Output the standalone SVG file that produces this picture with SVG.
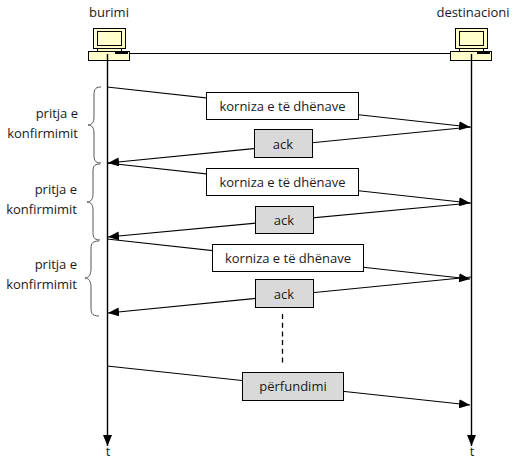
<svg xmlns="http://www.w3.org/2000/svg" width="516" height="466" viewBox="0 0 516 466">
<style>
text{font-family:"Open Sans","Noto Sans","Liberation Sans",sans-serif;font-size:13px;fill:#1a1a1a}
.m{text-anchor:middle}.e{text-anchor:end}
.c{fill:#ffffcc;stroke:#000;stroke-width:1}
.w{fill:#fff;stroke:#000;stroke-width:1}
.g{fill:#d9d9d9;stroke:#000;stroke-width:1}
.l{fill:none;stroke:#000;stroke-width:1.1}
.v{fill:none;stroke:#000;stroke-width:1.4}
.b{fill:none;stroke:#555;stroke-width:1}
.d{fill:none;stroke:#000;stroke-width:1.3;stroke-dasharray:5 3.7}
</style>
<defs>
<marker id="a" markerUnits="userSpaceOnUse" markerWidth="11" markerHeight="9" refX="11" refY="4.5" orient="auto"><path d="M0 0L11 4.5L0 9Z" fill="#000"/></marker>
<symbol id="pc" overflow="visible">
<rect class="c" x="5.5" y="0.5" width="32" height="20"/>
<rect class="c" x="9.5" y="3.5" width="24" height="14"/>
<rect class="c" x="9.5" y="20.5" width="24" height="3"/>
<rect class="c" x="0.5" y="23.5" width="41" height="9"/>
<rect x="27" y="24" width="13" height="2" fill="#000"/>
</symbol>
</defs>
<g id="source"><use href="#pc" x="88" y="28"/><text class="m" x="109" y="17">burimi</text></g>
<g id="destination"><use href="#pc" x="450" y="28"/><text class="m" x="473" y="17">destinacioni</text></g>
<g id="connectors">
<path class="l" d="M129 53.5H450"/>
<path class="v" d="M107.5 54V446" marker-end="url(#a)"/>
<path class="v" d="M471.5 54V446" marker-end="url(#a)"/>
<path class="l" d="M107 87L470 127" marker-end="url(#a)"/>
<path class="l" d="M471 127L108 163" marker-end="url(#a)"/>
<path class="l" d="M107 163L470 203" marker-end="url(#a)"/>
<path class="l" d="M471 203L108 237" marker-end="url(#a)"/>
<path class="l" d="M107 239L470 279" marker-end="url(#a)"/>
<path class="l" d="M471 277L108 313" marker-end="url(#a)"/>
<path class="l" d="M107 366L470 405" marker-end="url(#a)"/>
<path class="d" d="M282.5 314V365"/>
</g>
<g id="wait1"><path class="b" d="M101 87C94 87 94 91 94 96V117C94 122 92 125 88 125C92 125 94 128 94 133V154C94 159 94 163 101 163"/><text class="e" x="78" y="118">pritja e</text><text class="e" x="78" y="138">konfirmimit</text></g>
<g id="wait2"><path class="b" d="M100 164C93 164 93 168 93 173V194C93 199 91 202 87 202C91 202 93 205 93 210V231C93 236 93 240 100 240"/><text class="e" x="77" y="194">pritja e</text><text class="e" x="77" y="214">konfirmimit</text></g>
<g id="wait3"><path class="b" d="M99 241C91 241 91 245 91 250V269C91 274 89 278 85 278C89 278 91 282 91 287V307C91 312 91 316 99 316"/><text class="e" x="77" y="269">pritja e</text><text class="e" x="77" y="289">konfirmimit</text></g>
<g id="frame1"><rect class="w" x="206.5" y="92.5" width="152" height="27"/><text class="m" x="282.5" y="111">korniza e të dhënave</text></g>
<g id="ack1"><rect class="g" x="254.5" y="129.5" width="58" height="28"/><text class="m" x="283" y="149">ack</text></g>
<g id="frame2"><rect class="w" x="206.5" y="168.5" width="152" height="27"/><text class="m" x="282.5" y="187">korniza e të dhënave</text></g>
<g id="ack2"><rect class="g" x="255.5" y="206.5" width="58" height="27"/><text class="m" x="284" y="225">ack</text></g>
<g id="frame3"><rect class="w" x="212.5" y="244.5" width="151" height="27"/><text class="m" x="288" y="263">korniza e të dhënave</text></g>
<g id="ack3"><rect class="g" x="255.5" y="279.5" width="58" height="28"/><text class="m" x="284" y="299">ack</text></g>
<g id="end"><rect class="g" x="242.5" y="372.5" width="101" height="28"/><text class="m" x="293" y="391">përfundimi</text></g>
<g id="times"><text class="m" x="108" y="456">t</text><text class="m" x="472" y="456">t</text></g>
</svg>
